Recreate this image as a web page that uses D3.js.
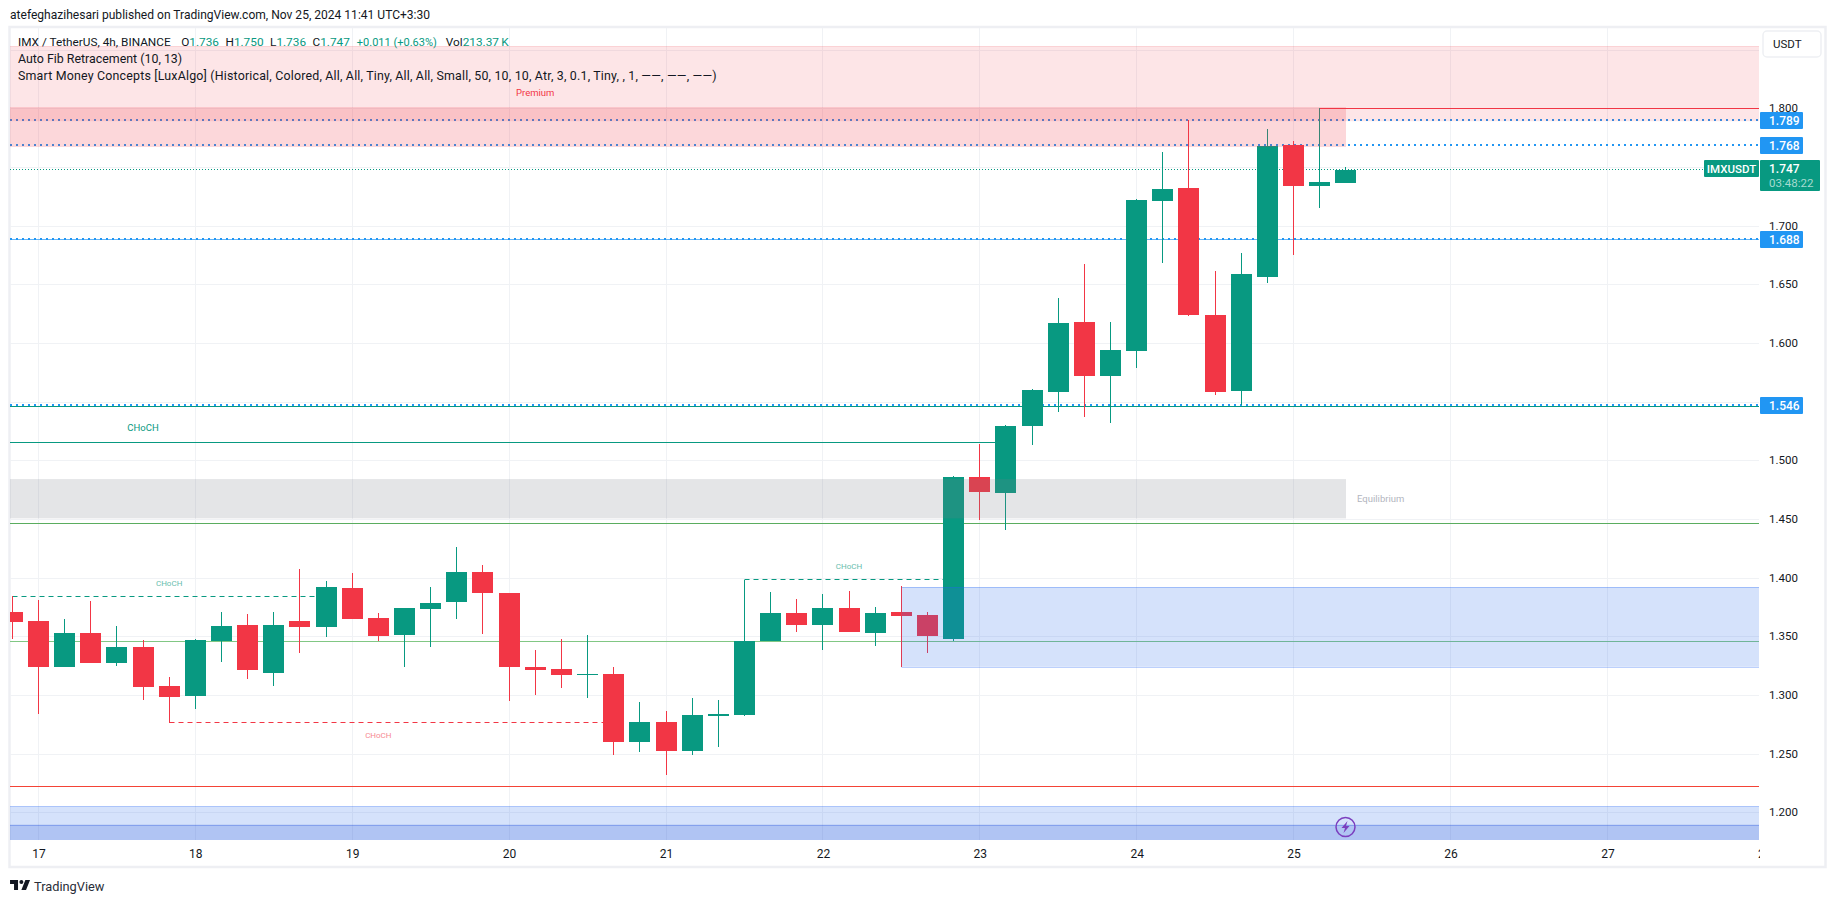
<!DOCTYPE html>
<html>
<head>
<meta charset="utf-8">
<script src="https://cdn.jsdelivr.net/npm/d3@7"></script>
<style>
  html, body { margin: 0; padding: 0; background: #fff; }
  svg { display: block; }
  text { font-family: "Roboto", sans-serif; fill: #131722; }
</style>
</head>
<body>
<script>
// 4h candles, first one opens Nov 16 20:00
var opens  = [1.371,1.363,1.324,1.353,1.327,1.341,1.308,1.299,1.346,1.360,1.319,1.363,1.358,1.391,1.366,1.351,1.373,1.379,1.405,1.387,1.324,1.322,1.317,1.318,1.260,1.277,1.252,1.282,1.283,1.346,1.370,1.360,1.374,1.353,1.371,1.368,1.348,1.486,1.472,1.529,1.558,1.618,1.572,1.593,1.721,1.732,1.624,1.559,1.656,1.769,1.734,1.736];
var highs  = [1.384,1.381,1.365,1.380,1.359,1.347,1.315,1.348,1.371,1.369,1.371,1.407,1.397,1.404,1.370,1.374,1.392,1.426,1.411,1.387,1.338,1.348,1.351,1.324,1.294,1.286,1.297,1.296,1.398,1.388,1.382,1.386,1.389,1.375,1.393,1.371,1.487,1.514,1.530,1.561,1.638,1.667,1.618,1.723,1.763,1.790,1.661,1.677,1.782,1.772,1.800,1.750];
var lows   = [1.348,1.284,1.324,1.327,1.325,1.296,1.276,1.288,1.328,1.314,1.308,1.336,1.349,1.365,1.346,1.324,1.341,1.365,1.352,1.295,1.300,1.306,1.297,1.249,1.251,1.232,1.249,1.256,1.282,1.346,1.354,1.338,1.354,1.342,1.324,1.336,1.346,1.449,1.441,1.513,1.541,1.537,1.532,1.579,1.668,1.623,1.556,1.547,1.651,1.675,1.715,1.736];
var closes = [1.362,1.324,1.353,1.327,1.341,1.307,1.298,1.347,1.359,1.321,1.360,1.358,1.392,1.365,1.350,1.374,1.378,1.405,1.387,1.324,1.321,1.317,1.318,1.260,1.277,1.252,1.283,1.284,1.346,1.370,1.360,1.374,1.354,1.370,1.367,1.350,1.486,1.473,1.529,1.560,1.617,1.572,1.594,1.722,1.731,1.624,1.558,1.659,1.768,1.734,1.737,1.747];

var priceTicks = [1.20,1.25,1.30,1.35,1.40,1.45,1.50,1.55,1.60,1.65,1.70,1.75,1.80,1.85];
// these labels sit behind the tags and the USDT button
var hiddenPriceLabels = [1.55,1.75,1.85];
var fibLevels = [1.789,1.768,1.688,1.546];

var lastPrice = 1.747;
var countdown = "03:48:22";
var pair = "IMXUSDT";

// price bands [high, low]
var premiumBand = [1.853,1.789];
var upperBand = [1.801,1.767];
var equilibriumBand = [1.484,1.4505];
var obBand = [1.392,1.324];
var lowerBands = [[1.205,1.15],[1.1895,1.15]];

// CHoCH: [price, first candle, last candle, label candle]
var chochUp = [[1.3838,0,12,6],[1.3985,28,36,32]];
var chochDown = [[1.2764,6,23,14]];
var chochSolid = [1.5152,38,5];

var greenLevel = 1.446;
var lightGreenLevel = 1.3455;
var redLevel = 1.222;
var tealLevel = 1.5455;
var topHigh = 1.80;

var titleText = "atefeghazihesari published on TradingView.com, Nov 25, 2024 11:41 UTC+3:30";
var legendSymbol = "IMX / TetherUS, 4h, BINANCE";
var legendOhlc = [["O","1.736"],["H","1.750"],["L","1.736"],["C","1.747"]];
var legendLines = ["Auto Fib Retracement (10, 13)",
  "Smart Money Concepts [LuxAlgo] (Historical, Colored, All, All, Tiny, All, All, Small, 50, 10, 10, Atr, 3, 0.1, Tiny, , 1, \u2014\u2014, \u2014\u2014, \u2014\u2014)"];

var green = "#089981", red = "#f23645", blue = "#2196f3";

var pane = {left: 10, right: 1759, top: 28, bottom: 840};

var svg = d3.select("body").append("svg")
    .attr("width", 1835)
    .attr("height", 903);

svg.append("defs").append("clipPath").attr("id", "pane")
  .append("rect")
    .attr("x", pane.left).attr("y", pane.top)
    .attr("width", pane.right - pane.left).attr("height", pane.bottom - pane.top);
svg.select("defs").append("clipPath").attr("id", "timeclip")
  .append("rect")
    .attr("x", pane.left).attr("y", pane.bottom)
    .attr("width", pane.right - pane.left + 1).attr("height", 27);

var start = Date.UTC(2024, 10, 16, 20);
var times = opens.map(function(d, i) { return new Date(start + i * 4 * 3600 * 1000); });

var x = d3.scaleUtc()
    .domain([new Date(Date.UTC(2024, 10, 17)), new Date(Date.UTC(2024, 10, 28))])
    .range([38.4, 1764.3]);

var y = d3.scaleLinear()
    .domain([1.2, 1.8])
    .range([812.3, 108.3]);

function cx(i) { return Math.floor(x(times[i])) + 0.5; }

// frame
svg.append("rect")
    .attr("x", 9.5).attr("y", 27)
    .attr("width", 1816).attr("height", 840)
    .attr("fill", "none")
    .attr("stroke", "#eeeff3")
    .attr("stroke-width", 2.5);

var chart = svg.append("g").attr("clip-path", "url(#pane)");

// grid
chart.append("g").selectAll("line")
    .data(priceTicks)
  .enter().append("line")
    .attr("x1", pane.left).attr("x2", pane.right)
    .attr("y1", function(d) { return Math.round(y(d)) + 0.5; })
    .attr("y2", function(d) { return Math.round(y(d)) + 0.5; })
    .attr("stroke", "#f0f2f5");

chart.append("g").selectAll("line")
    .data(x.ticks(d3.utcDay))
  .enter().append("line")
    .attr("y1", pane.top).attr("y2", pane.bottom)
    .attr("x1", function(d) { return Math.floor(x(d)) + 0.5; })
    .attr("x2", function(d) { return Math.floor(x(d)) + 0.5; })
    .attr("stroke", "#f0f2f5");

function band(b, x0, x1, fill, stroke) {
  chart.append("rect")
      .attr("x", x0).attr("width", x1 - x0)
      .attr("y", y(b[0])).attr("height", y(b[1]) - y(b[0]))
      .attr("fill", fill);
  if (stroke) {
    chart.append("line")
        .attr("x1", x0).attr("x2", x1)
        .attr("y1", Math.round(y(b[0])) + 0.5).attr("y2", Math.round(y(b[0])) + 0.5)
        .attr("stroke", stroke);
  }
}

function hline(price, x0, x1, color, width, dash) {
  chart.append("line")
      .attr("x1", x0).attr("x2", x1)
      .attr("y1", Math.floor(y(price)) + 0.5).attr("y2", Math.floor(y(price)) + 0.5)
      .attr("stroke", color)
      .attr("stroke-width", width)
      .attr("stroke-dasharray", dash || null);
}

// levels sit under the candles
hline(greenLevel, pane.left, pane.right, "#5aad5f", 1);
hline(lightGreenLevel, pane.left, pane.right, "#81c784", 1);
hline(redLevel, pane.left, pane.right, "#f44336", 1);
hline(tealLevel, pane.left, pane.right, green, 1);
hline(fibLevels[2], pane.left, pane.right, "#64b5f6", 1);
hline(topHigh, cx(50), pane.right, red, 1);
hline(chochSolid[0], pane.left, cx(chochSolid[1]), green, 1);

chochUp.forEach(function(c) {
  hline(c[0], cx(c[1]), cx(c[2]), green, 1, "5,4");
});
chochDown.forEach(function(c) {
  hline(c[0], cx(c[1]), cx(c[2]), red, 1, "5,4");
});

// fib dots are 2px, centred one row above the price
chart.append("g").selectAll("line")
    .data(fibLevels)
  .enter().append("line")
    .attr("x1", pane.left).attr("x2", pane.right)
    .attr("y1", function(d) { return Math.round(y(d)) - 1; })
    .attr("y2", function(d) { return Math.round(y(d)) - 1; })
    .attr("stroke", blue)
    .attr("stroke-width", 2)
    .attr("stroke-dasharray", "2,4");

chart.append("line")
    .attr("x1", pane.left).attr("x2", pane.right)
    .attr("y1", Math.round(y(lastPrice)) - 0.5).attr("y2", Math.round(y(lastPrice)) - 0.5)
    .attr("stroke", green)
    .attr("stroke-dasharray", "1,2");

// candles
var candles = chart.append("g")
    .attr("shape-rendering", "crispEdges")
  .selectAll("g")
    .data(opens)
  .enter().append("g")
    .attr("fill", function(d, i) { return closes[i] >= opens[i] ? green : red; });

candles.append("rect")
    .attr("x", function(d, i) { return cx(i) - 0.5; })
    .attr("width", 1)
    .attr("y", function(d, i) { return y(highs[i]); })
    .attr("height", function(d, i) { return y(lows[i]) - y(highs[i]); });

candles.append("rect")
    .attr("x", function(d, i) { return cx(i) - 10.5; })
    .attr("width", 21)
    .attr("y", function(d, i) { return y(Math.max(opens[i], closes[i])); })
    .attr("height", function(d, i) { return Math.abs(y(opens[i]) - y(closes[i])); });

// zones tint the candles, so they go on top
var zoneEnd = cx(51) + 0.5;
var obFill = "rgba(45,110,235,0.2)", obStroke = "rgba(33,100,245,0.3)";

band(premiumBand, pane.left, pane.right, "rgba(242,54,69,0.13)", "rgba(242,54,69,0.12)");
band(upperBand, pane.left, zoneEnd, "rgba(242,54,69,0.2)");
band(equilibriumBand, pane.left, zoneEnd, "rgba(120,123,134,0.2)");

band(obBand, cx(34), pane.right, obFill, obStroke);
chart.append("line")
    .attr("x1", cx(34)).attr("x2", pane.right)
    .attr("y1", Math.round(y(obBand[1])) + 0.5).attr("y2", Math.round(y(obBand[1])) + 0.5)
    .attr("stroke", obStroke);

band(lowerBands[0], pane.left, pane.right, obFill, obStroke);
band(lowerBands[1], pane.left, pane.right, "rgba(45,90,215,0.22)", "rgba(33,80,225,0.3)");

// zone + choch labels
function chartLabel(text, i, price, color, size, opacity) {
  chart.append("text")
      .attr("x", x(times[i])).attr("y", y(price))
      .attr("text-anchor", "middle")
      .attr("dy", "0.35em")
      .attr("font-size", size)
      .style("fill", color)
      .style("opacity", opacity)
      .text(text);
}

chochUp.forEach(function(c) { chartLabel("CHoCH", c[3], c[0] + 0.0115, green, 8, 0.65); });
chochDown.forEach(function(c) { chartLabel("CHoCH", c[3], c[0] - 0.0105, red, 8, 0.6); });
chartLabel("CHoCH", chochSolid[2], chochSolid[0] + 0.0125, green, 9.5, 1);
chartLabel("Premium", 20, 1.813, red, 9.5, 1);

chart.append("text")
    .attr("x", zoneEnd + 11).attr("y", y(equilibriumBand[1] + 0.0165))
    .attr("dy", "0.35em")
    .attr("font-size", 9.5)
    .style("fill", "#b2b5be")
    .text("Equilibrium");

// bolt marker
var bolt = svg.append("g").attr("transform", "translate(" + cx(51) + "," + 827 + ")");
bolt.append("circle").attr("r", 9.5).attr("fill", "none")
    .attr("stroke", "#7b3fbf").attr("stroke-width", 1.5);
bolt.append("path").attr("d", "M2,-6L-4,1H-0.5L-2,6L4,-1H0.5Z").attr("fill", "#7b3fbf");

// price axis labels
var axisY = d3.axisRight(y)
    .tickValues(priceTicks.filter(function(d) { return hiddenPriceLabels.indexOf(d) < 0; }))
    .tickFormat(d3.format(".3f"))
    .tickSize(0)
    .tickPadding(0);

svg.append("g")
    .attr("transform", "translate(1769,0)")
    .call(axisY)
    .call(function(g) { g.select(".domain").remove(); })
    .selectAll("text")
    .attr("font-family", "Roboto")
    .attr("font-size", 11.5)
    .attr("text-anchor", "start");

// price tags
var tags = svg.append("g").selectAll("g")
    .data(fibLevels)
  .enter().append("g")
    .attr("transform", function(d) { return "translate(1760," + (Math.round(y(d)) - 1) + ")"; });

tags.append("rect")
    .attr("y", -8).attr("width", 43).attr("height", 17).attr("rx", 1)
    .attr("fill", blue);

tags.append("text")
    .attr("x", 9).attr("y", 0.5).attr("dy", "0.36em")
    .attr("font-size", 12)
    .attr("font-weight", 500)
    .style("fill", "#fff")
    .text(d3.format(".3f"));

var lastY = Math.round(y(lastPrice)) - 1;
svg.append("rect")
    .attr("x", 1704).attr("y", lastY - 9)
    .attr("width", 55).attr("height", 17).attr("rx", 1)
    .attr("fill", green);
svg.append("text")
    .attr("x", 1731.5).attr("y", lastY).attr("dy", "0.36em")
    .attr("text-anchor", "middle")
    .attr("font-size", 11.5).attr("font-weight", 500)
    .style("fill", "#fff")
    .text(pair);
svg.append("rect")
    .attr("x", 1760).attr("y", lastY - 9)
    .attr("width", 60).attr("height", 31).attr("rx", 1)
    .attr("fill", green);
svg.append("text")
    .attr("x", 1769).attr("y", lastY).attr("dy", "0.36em")
    .attr("font-size", 12).attr("font-weight", 500)
    .style("fill", "#fff")
    .text(d3.format(".3f")(lastPrice));
svg.append("text")
    .attr("x", 1769).attr("y", lastY + 14).attr("dy", "0.36em")
    .attr("font-size", 11.5)
    .style("fill", "#a5dbd0")
    .text(countdown);

// USDT button
svg.append("rect")
    .attr("x", 1763).attr("y", 31)
    .attr("width", 58).attr("height", 26).attr("rx", 4)
    .attr("fill", "#fff").attr("stroke", "#eef0f3").attr("stroke-width", 1.5);
svg.append("text")
    .attr("x", 1773).attr("y", 44).attr("dy", "0.36em")
    .attr("font-size", 11.5)
    .text("USDT");

// time axis
var axisX = d3.axisBottom(x)
    .ticks(d3.utcDay)
    .tickFormat(d3.utcFormat("%-d"))
    .tickSize(0)
    .tickPadding(0);

svg.append("g")
    .attr("clip-path", "url(#timeclip)")
  .append("g")
    .attr("transform", "translate(0,849.5)")
    .call(axisX)
    .call(function(g) { g.select(".domain").remove(); })
    .selectAll("text")
    .attr("font-family", "Roboto")
    .attr("font-size", 12);

// header and legend
svg.append("text")
    .attr("x", 10).attr("y", 15).attr("dy", "0.36em")
    .attr("font-size", 12.05)
    .text(titleText);

var legend = svg.append("text")
    .attr("x", 18).attr("y", 41.5).attr("dy", "0.36em")
    .attr("font-size", 11.8);
legend.append("tspan").text(legendSymbol);
legendOhlc.forEach(function(d, i) {
  legend.append("tspan").attr("dx", i ? 6.5 : 10.5).text(d[0]);
  legend.append("tspan").style("fill", green).text(d[1]);
});
legend.append("tspan").attr("dx", 7).attr("font-size", 11).style("fill", green).text("+0.011 (+0.63%)");
legend.append("tspan").attr("dx", 9).text("Vol");
legend.append("tspan").style("fill", green).text("213.37\u2009K");

svg.append("g").selectAll("text")
    .data(legendLines)
  .enter().append("text")
    .attr("x", 18)
    .attr("y", function(d, i) { return 59 + i * 17; })
    .attr("dy", "0.36em")
    .attr("font-size", 12.4)
    .style("letter-spacing", function(d, i) { return i ? "0.19px" : null; })
    .text(function(d) { return d; });

// footer logo
svg.append("path")
    .attr("transform", "translate(8.7,876) scale(0.667)")
    .attr("d", "M14 6H2v6h6v9h6V6Zm12 15h-7l6-15h7l-6 15Zm-7-9a3 3 0 1 0 0-6 3 3 0 0 0 0 6Z")
    .attr("fill", "#131722");
svg.append("text")
    .attr("x", 34).attr("y", 886).attr("dy", "0.36em")
    .attr("font-size", 12.8)
    .style("fill", "#2a2e39")
    .text("TradingView");
</script>
</body>
</html>
